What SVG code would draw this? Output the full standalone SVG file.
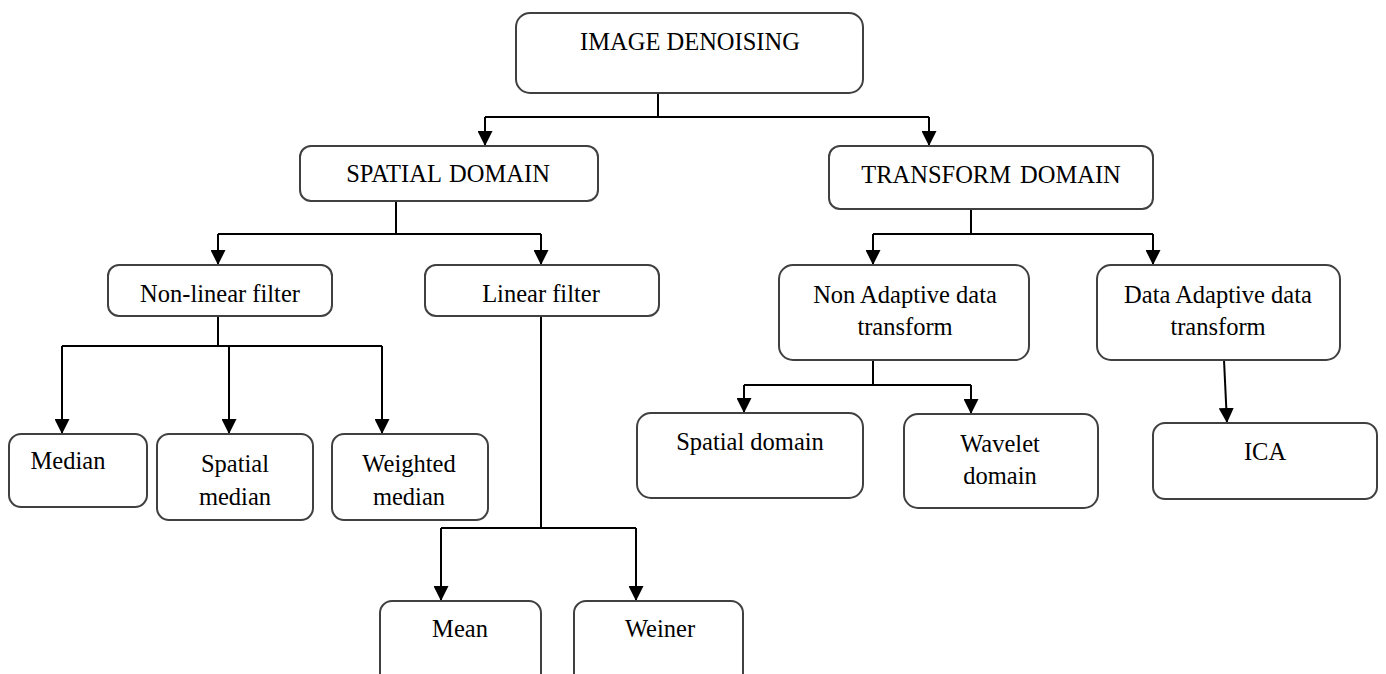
<svg xmlns="http://www.w3.org/2000/svg" width="1386" height="674" viewBox="0 0 1386 674">
<style>
.box{fill:#fff;stroke:#404040;stroke-width:2}
.t{font-family:"Liberation Serif","Times New Roman",serif;font-size:24.5px;fill:#000;text-anchor:middle}
.c{fill:none;stroke:#000;stroke-width:2}
</style>
<defs>
<marker id="a" markerWidth="15" markerHeight="15" refX="15" refY="7.5" orient="auto" markerUnits="userSpaceOnUse" viewBox="0 0 15 15">
<path d="M0,0 L15,7.5 L0,15 Z" fill="#000"/>
</marker>
</defs>
<rect width="1386" height="674" fill="#fff"/>
<g id="connectors">
<path class="c" d="M658,93 V117"/>
<path class="c" d="M485,117 H929"/>
<path class="c" d="M485,117 V146" marker-end="url(#a)"/>
<path class="c" d="M929,117 V146" marker-end="url(#a)"/>
<path class="c" d="M396,201 V234"/>
<path class="c" d="M218,234 H541"/>
<path class="c" d="M218,234 V265" marker-end="url(#a)"/>
<path class="c" d="M541,234 V265" marker-end="url(#a)"/>
<path class="c" d="M218,316 V346"/>
<path class="c" d="M62,346 H382"/>
<path class="c" d="M62,346 V434" marker-end="url(#a)"/>
<path class="c" d="M229,346 V434" marker-end="url(#a)"/>
<path class="c" d="M382,346 V434" marker-end="url(#a)"/>
<path class="c" d="M541,316 V528"/>
<path class="c" d="M441,528 H636"/>
<path class="c" d="M441,528 V601" marker-end="url(#a)"/>
<path class="c" d="M636,528 V601" marker-end="url(#a)"/>
<path class="c" d="M971,209 V234"/>
<path class="c" d="M873,234 H1153"/>
<path class="c" d="M873,234 V265" marker-end="url(#a)"/>
<path class="c" d="M1153,234 V265" marker-end="url(#a)"/>
<path class="c" d="M873,360 V385"/>
<path class="c" d="M744,385 H971"/>
<path class="c" d="M744,385 V413" marker-end="url(#a)"/>
<path class="c" d="M971,385 V414" marker-end="url(#a)"/>
<path class="c" d="M1224,360 L1227,423" marker-end="url(#a)"/>
</g>
<g id="image-denoising">
<rect class="box" x="516" y="13" width="347" height="80" rx="14"/>
<text class="t" x="690" y="50">IMAGE DENOISING</text>
</g>
<g id="spatial-domain">
<rect class="box" x="300" y="146" width="298" height="55" rx="11"/>
<text class="t" x="448" y="182" word-spacing="2">SPATIAL DOMAIN</text>
</g>
<g id="transform-domain">
<rect class="box" x="829" y="146" width="324" height="63" rx="11"/>
<text class="t" x="991" y="183" word-spacing="3">TRANSFORM DOMAIN</text>
</g>
<g id="non-linear-filter">
<rect class="box" x="108" y="265" width="224" height="51" rx="11"/>
<text class="t" x="220" y="302">Non-linear filter</text>
</g>
<g id="linear-filter">
<rect class="box" x="425" y="265" width="234" height="51" rx="11"/>
<text class="t" x="541" y="302">Linear filter</text>
</g>
<g id="non-adaptive">
<rect class="box" x="779" y="265" width="250" height="95" rx="14"/>
<text class="t" x="905" y="303">Non Adaptive data</text>
<text class="t" x="905" y="335">transform</text>
</g>
<g id="data-adaptive">
<rect class="box" x="1097" y="265" width="243" height="95" rx="14"/>
<text class="t" x="1218" y="303">Data Adaptive data</text>
<text class="t" x="1218" y="335">transform</text>
</g>
<g id="median">
<rect class="box" x="9" y="434" width="138" height="73" rx="12"/>
<text class="t" x="68" y="469">Median</text>
</g>
<g id="spatial-median">
<rect class="box" x="157" y="434" width="156" height="86" rx="12"/>
<text class="t" x="235" y="472">Spatial</text>
<text class="t" x="235" y="505">median</text>
</g>
<g id="weighted-median">
<rect class="box" x="332" y="434" width="156" height="86" rx="12"/>
<text class="t" x="409" y="472">Weighted</text>
<text class="t" x="409" y="505">median</text>
</g>
<g id="spatial-domain-2">
<rect class="box" x="637" y="413" width="226" height="85" rx="14"/>
<text class="t" x="750" y="450">Spatial domain</text>
</g>
<g id="wavelet-domain">
<rect class="box" x="904" y="414" width="194" height="94" rx="14"/>
<text class="t" x="1000" y="452">Wavelet</text>
<text class="t" x="1000" y="484">domain</text>
</g>
<g id="ica">
<rect class="box" x="1153" y="423" width="224" height="76" rx="12"/>
<text class="t" x="1265" y="460">ICA</text>
</g>
<g id="mean">
<rect class="box" x="380" y="601" width="161" height="100" rx="12"/>
<text class="t" x="460" y="637">Mean</text>
</g>
<g id="weiner">
<rect class="box" x="574" y="601" width="169" height="100" rx="12"/>
<text class="t" x="660" y="637">Weiner</text>
</g>
</svg>
